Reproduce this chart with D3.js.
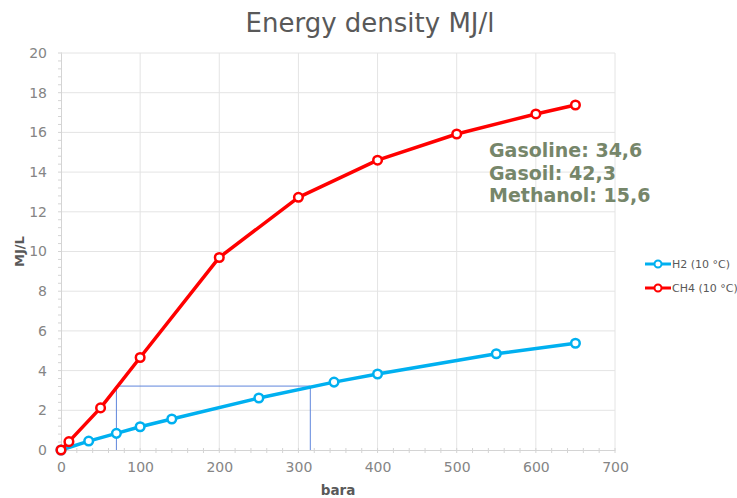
<!DOCTYPE html>
<html>
<head>
<meta charset="utf-8">
<script src="https://cdn.jsdelivr.net/npm/d3@7"></script>
<style>
  body { margin: 0; background: #fff; }
  svg { display: block; }
</style>
</head>
<body>
<div id="chart"></div>
<script>
// Data
const h2Pressure = [0, 35, 70, 100, 140, 250, 345, 400, 550, 650];
const h2Density = [0, 0.45, 0.84, 1.17, 1.56, 2.62, 3.42, 3.83, 4.85, 5.38];
const ch4Pressure = [0, 10, 50, 100, 200, 300, 400, 500, 600, 650];
const ch4Density = [0, 0.42, 2.12, 4.66, 9.7, 12.73, 14.6, 15.92, 16.93, 17.38];

// Thin blue guide: same density reached at two pressures
const guidePressure = [70, 315];
const guideDensity = 3.22;

const seriesNames = ["H2 (10 °C)", "CH4 (10 °C)"];
const seriesColors = ["#00b0f0", "#ff0000"];

const fuelNames = ["Gasoline", "Gasoil", "Methanol"];
const fuelValues = ["34,6", "42,3", "15,6"];

const xTicks = [0, 100, 200, 300, 400, 500, 600, 700];
const yTicks = [0, 2, 4, 6, 8, 10, 12, 14, 16, 18, 20];

// Dimensions
const width = 737;
const height = 498;
const plot = { left: 61, right: 615, top: 53, bottom: 450 };

const gridColor = "#e4e4e4";
const axisColor = "#d4d4d4";
const tickText = "#858585";
const labelText = "#595959";
const font = "'DejaVu Sans', Verdana, sans-serif";

const svg = d3.select("#chart")
  .append("svg")
  .attr("width", width)
  .attr("height", height);

const x = d3.scaleLinear().domain([0, 700]).range([plot.left, plot.right]);
const y = d3.scaleLinear().domain([0, 20]).range([plot.bottom, plot.top]);

// Gridlines
svg.append("g")
  .selectAll("line")
  .data(yTicks.slice(1))
  .enter()
  .append("line")
  .attr("x1", plot.left)
  .attr("x2", plot.right)
  .attr("y1", d => y(d))
  .attr("y2", d => y(d))
  .attr("stroke", gridColor)
  .attr("stroke-width", 1);

svg.append("g")
  .selectAll("line")
  .data(xTicks.slice(1))
  .enter()
  .append("line")
  .attr("x1", d => x(d))
  .attr("x2", d => x(d))
  .attr("y1", plot.top)
  .attr("y2", plot.bottom)
  .attr("stroke", gridColor)
  .attr("stroke-width", 1);

// Minor ticks
svg.append("g")
  .selectAll("line")
  .data(d3.range(0, 700.1, 20))
  .enter()
  .append("line")
  .attr("x1", d => x(d))
  .attr("x2", d => x(d))
  .attr("y1", plot.bottom - 2)
  .attr("y2", plot.bottom + 3)
  .attr("stroke", axisColor);

svg.append("g")
  .selectAll("line")
  .data(d3.range(0, 20.01, 0.4))
  .enter()
  .append("line")
  .attr("x1", plot.left - 3)
  .attr("x2", plot.left + 1)
  .attr("y1", d => y(d))
  .attr("y2", d => y(d))
  .attr("stroke", axisColor);

// Axes
const xAxis = svg.append("g")
  .attr("transform", `translate(0,${plot.bottom})`)
  .call(d3.axisBottom(x).tickValues(xTicks).tickSize(0).tickPadding(12));

const yAxis = svg.append("g")
  .attr("transform", `translate(${plot.left},0)`)
  .call(d3.axisLeft(y).tickValues(yTicks).tickSize(0).tickPadding(14));

[xAxis, yAxis].forEach(a => {
  a.select(".domain").attr("stroke", axisColor);
  a.selectAll("text")
    .attr("fill", tickText)
    .attr("font-family", font)
    .attr("font-size", "14px");
});

// Guide lines
const guide = svg.append("g")
  .attr("stroke", "#5f86dc")
  .attr("stroke-width", 1)
  .attr("fill", "none");

guide.append("path")
  .attr("d", d3.line()([
    [x(guidePressure[0]), y(0)],
    [x(guidePressure[0]), y(guideDensity)],
    [x(guidePressure[1]), y(guideDensity)],
    [x(guidePressure[1]), y(0)]
  ]));

// Series
const series = [
  { name: seriesNames[0], color: seriesColors[0], xs: h2Pressure, ys: h2Density },
  { name: seriesNames[1], color: seriesColors[1], xs: ch4Pressure, ys: ch4Density }
];

const line = d3.line()
  .x(d => x(d[0]))
  .y(d => y(d[1]));

series.forEach(s => {
  const pts = s.xs.map((p, i) => [p, s.ys[i]]);
  const g = svg.append("g");
  g.append("path")
    .datum(pts)
    .attr("d", line)
    .attr("fill", "none")
    .attr("stroke", s.color)
    .attr("stroke-width", 3.5)
    .attr("stroke-linejoin", "round");
  g.selectAll("circle")
    .data(pts)
    .enter()
    .append("circle")
    .attr("cx", d => x(d[0]))
    .attr("cy", d => y(d[1]))
    .attr("r", 4.3)
    .attr("fill", "#fff")
    .attr("stroke", s.color)
    .attr("stroke-width", 2.5);
});

// Title
svg.append("text")
  .attr("x", 370)
  .attr("y", 32)
  .attr("text-anchor", "middle")
  .attr("fill", labelText)
  .attr("font-family", font)
  .attr("font-size", "26px")
  .text("Energy density MJ/l");

// Axis titles
svg.append("text")
  .attr("x", (plot.left + plot.right) / 2)
  .attr("y", 495)
  .attr("text-anchor", "middle")
  .attr("fill", labelText)
  .attr("font-family", font)
  .attr("font-size", "13.5px")
  .attr("font-weight", "bold")
  .text("bara");

svg.append("text")
  .attr("transform", `translate(24,${(plot.top + plot.bottom) / 2}) rotate(-90)`)
  .attr("text-anchor", "middle")
  .attr("fill", labelText)
  .attr("font-family", font)
  .attr("font-size", "13px")
  .attr("font-weight", "bold")
  .text("MJ/L");

// Fuel annotation
svg.append("g")
  .selectAll("text")
  .data(fuelNames)
  .enter()
  .append("text")
  .attr("x", 489)
  .attr("y", (d, i) => 157 + i * 22.5)
  .attr("fill", "#76866a")
  .attr("font-family", font)
  .attr("font-size", "19px")
  .attr("font-weight", "bold")
  .text((d, i) => `${d}: ${fuelValues[i]}`);

// Legend
const legend = svg.append("g")
  .selectAll("g")
  .data(series)
  .enter()
  .append("g")
  .attr("transform", (d, i) => `translate(645,${264 + i * 24})`);

legend.append("line")
  .attr("x1", 0)
  .attr("x2", 26)
  .attr("stroke", d => d.color)
  .attr("stroke-width", 3);

legend.append("circle")
  .attr("cx", 13)
  .attr("r", 3.5)
  .attr("fill", "#fff")
  .attr("stroke", d => d.color)
  .attr("stroke-width", 2);

legend.append("text")
  .attr("x", 27)
  .attr("y", 4)
  .attr("fill", labelText)
  .attr("font-family", font)
  .attr("font-size", "11px")
  .text(d => d.name);
</script>
</body>
</html>
